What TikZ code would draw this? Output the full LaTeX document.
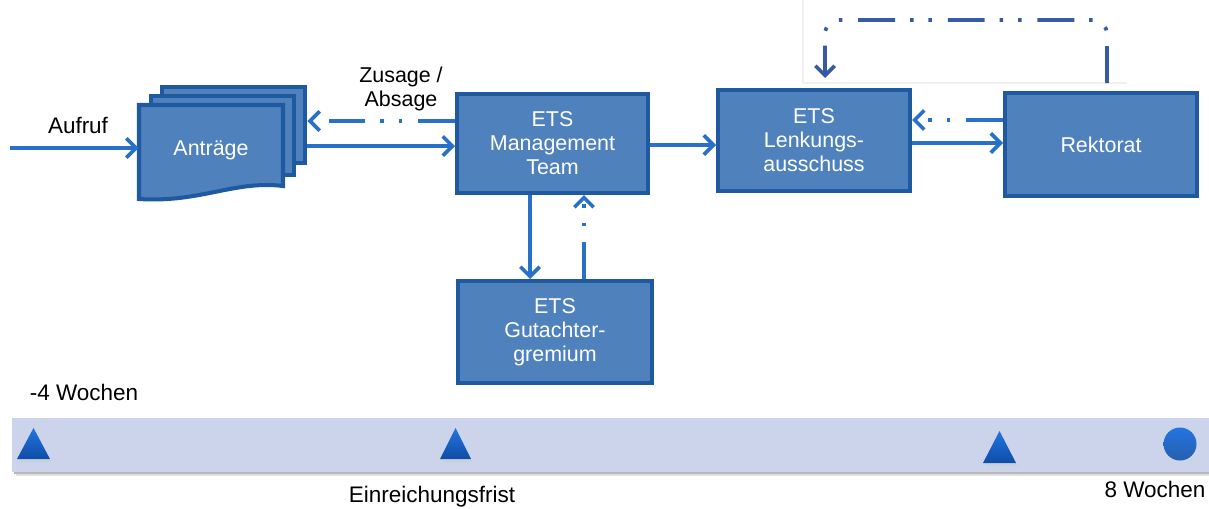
\documentclass[tikz,border=0pt]{standalone}
\usepackage{fontspec}
\setmainfont{Liberation Sans}
\usetikzlibrary{arrows.meta}
\definecolor{boxfill}{RGB}{79,129,189}
\definecolor{boxline}{RGB}{31,90,160}
\definecolor{arrcol}{RGB}{40,112,200}
\definecolor{loopcol}{RGB}{55,90,165}
\definecolor{bandcol}{RGB}{203,212,235}
\definecolor{tritop}{RGB}{36,116,224}
\definecolor{tribot}{RGB}{14,77,166}
\tikzset{
  procbox/.style={draw=boxline, fill=boxfill, line width=2.3pt, text=white, align=center,
    font=\fontsize{12.2}{13.6}\selectfont, inner sep=0pt},
  arr/.style={draw=arrcol, line width=2.1pt, -{Straight Barb[length=5.5pt,width=11pt]}},
  ddarr/.style={arr, dash pattern=on 21pt off 9pt on 2pt off 8.5pt on 2pt off 8.5pt},
  lbl/.style={font=\fontsize{12.8}{14}\selectfont, align=center, inner sep=0pt},
}
\begin{document}
\begin{tikzpicture}[x=0.02cm,y=-0.02cm]
\useasboundingbox (0,0) rectangle (1209,508);
% faint frame of pasted picture
\draw[gray!12, line width=0.6pt] (803,0) -- (803,83) -- (1127,83);
% Antraege (multi document)
\node[inner sep=0pt, minimum width=3.36cm, minimum height=2.3cm] (ant) at (223,144.5) {};
\filldraw[draw=boxline, fill=boxfill, line width=2.3pt] (162,87) rectangle (305,163);
\filldraw[draw=boxline, fill=boxfill, line width=2.3pt] (151,96) rectangle (294,175);
\filldraw[draw=boxline, fill=boxfill, line width=2.3pt] (139,105) -- (283,105) -- (283,186)
   .. controls (235,180) and (200,203) .. (139,199) -- cycle;
\node[text=white, font=\fontsize{12.2}{13.6}\selectfont] (anttext) at (211,150) {Anträge};
% boxes
\node[procbox, minimum width=3.82cm, minimum height=1.98cm] (mgmt) at (552.5,143.5) {ETS\\Management\\Team};
\node[procbox, minimum width=3.84cm, minimum height=2.02cm] (lenk) at (814,140.5) {ETS\\Lenkungs-\\ausschuss};
\node[procbox, minimum width=3.84cm, minimum height=2.06cm] (rek) at (1101,144.5) {Rektorat};
\node[procbox, minimum width=3.88cm, minimum height=2.04cm] (gut) at (555,332) {ETS\\Gutachter-\\gremium};
% connectors
\coordinate (aufstart) at (10,148);
\draw[arr] (aufstart) -- (ant.west |- aufstart);
\node[lbl] (auflbl) at (78,125) {Aufruf};
\draw[arr] (ant.east |- 0,146) -- (mgmt.west |- 0,146);
\draw[ddarr] (mgmt.west |- 0,121) -- (ant.east |- 0,121);
\node[lbl, font=\fontsize{12.2}{13.2}\selectfont] (zus) at (401,89) {Zusage /\\Absage};
\draw[arr] (mgmt.east |- 0,145) -- (lenk.west |- 0,145);
\draw[arr] (lenk.east |- 0,143) -- (rek.west |- 0,143);
\draw[ddarr] (rek.west |- 0,120) -- (lenk.east |- 0,120);
\draw[arr] (mgmt.south -| 530,0) -- (gut.north -| 530,0);
\draw[ddarr] (gut.north -| 584,0) -- (mgmt.south -| 584,0);
% loop Rektorat -> Lenkungsausschuss
\coordinate (loopA) at (1107,83);
\coordinate (loopB) at (825,78);
\draw[ddarr, draw=loopcol, rounded corners=8pt] (loopA) -- (1107,20) -- (825,20) -- (loopB);
% timeline
\fill[gray!55] (14,472) rectangle (1209,474);
\fill[gray!25] (16,474) rectangle (1209,476);
\fill[bandcol] (12,418) rectangle (1209,472);
\fill[gray!40, opacity=0.6] (19,460) -- (52,460) -- (50,462) -- (21,462) -- cycle;
\fill[gray!40, opacity=0.6] (442,460) -- (473,460) -- (471,462) -- (444,462) -- cycle;
\fill[gray!40, opacity=0.6] (985,464) -- (1018,464) -- (1016,466) -- (987,466) -- cycle;
\shade[top color=tritop, bottom color=tribot] (17,459) -- (33.5,428) -- (50,459) -- cycle;
\shade[top color=tritop, bottom color=tribot] (440,459) -- (455.5,428) -- (471,459) -- cycle;
\shade[top color=tritop, bottom color=tribot] (983,463) -- (999.5,431) -- (1016,463) -- cycle;
\shade[top color=tritop, bottom color=tribot!90] (1180,444) circle[radius=0.33cm];
\node[lbl] (minus4) at (84,392) {-4 Wochen};
\node[lbl] (einr) at (432,497) {Einreichungsfrist};
\node[lbl] (acht) at (1155,489) {8 Wochen};
\end{tikzpicture}
\end{document}
